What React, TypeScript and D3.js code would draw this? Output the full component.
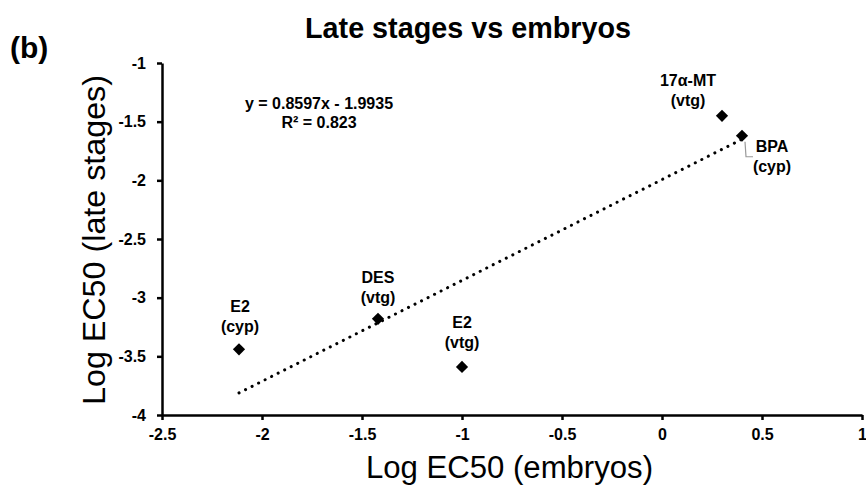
import React, { useRef, useEffect } from 'react';
import * as d3 from 'd3';

const chemicals = ['17α-MT', 'BPA', 'DES', 'E2', 'E2'];
const endpoints = ['(vtg)', '(cyp)', '(vtg)', '(cyp)', '(vtg)'];
const logEmbryos = [0.3, 0.4, -1.42, -2.115, -1.0];
const logLate = [-1.45, -1.62, -3.18, -3.44, -3.59];
const xTicks = [-2.5, -2, -1.5, -1, -0.5, 0, 0.5, 1];
const yTicks = [-1, -1.5, -2, -2.5, -3, -3.5, -4];
const slope = 0.8597;
const intercept = -1.9935;
const rSquared = 0.823;

const App = () => {
  const svgRef = useRef(null);

  useEffect(() => {
    const width = 866;
    const height = 488;
    const svg = d3.select(svgRef.current);
    svg.selectAll('*').remove();
    svg.attr('width', width).attr('height', height).style('background', 'white');

    const font = 'Liberation Sans, Arial, sans-serif';

    const x = d3.scaleLinear().domain([-2.5, 1]).range([162, 862]);
    const y = d3.scaleLinear().domain([-4, -1]).range([415, 63]);

    // axes
    const xAxis = d3.axisBottom(x).tickValues(xTicks).tickSize(5).tickSizeOuter(0)
      .tickFormat(d => String(d));
    const gx = svg.append('g').attr('transform', `translate(0, ${y(-4)})`).call(xAxis);
    gx.select('.domain').attr('stroke', '#000').attr('stroke-width', 2.5);
    gx.selectAll('.tick line').attr('stroke', '#000').attr('stroke-width', 2.5);
    gx.selectAll('.tick text')
      .style('font-family', font).style('font-size', '16px').style('font-weight', 'bold')
      .attr('fill', '#000').attr('y', 10).attr('dy', '0.95em');

    const yAxis = d3.axisLeft(y).tickValues(yTicks).tickSize(5).tickSizeOuter(0)
      .tickFormat(d => String(d));
    const gy = svg.append('g').attr('transform', `translate(${x(-2.5)}, 0)`).call(yAxis);
    gy.select('.domain').attr('stroke', '#000').attr('stroke-width', 2.5);
    gy.selectAll('.tick line').attr('stroke', '#000').attr('stroke-width', 2.5);
    gy.selectAll('.tick text')
      .style('font-family', font).style('font-size', '16px').style('font-weight', 'bold')
      .attr('fill', '#000').attr('x', -16);

    // trendline over the range of the data
    const x0 = d3.min(logEmbryos);
    const x1 = d3.max(logEmbryos);
    svg.append('line')
      .attr('x1', x(x0)).attr('y1', y(slope * x0 + intercept))
      .attr('x2', x(x1)).attr('y2', y(slope * x1 + intercept))
      .attr('stroke', '#000').attr('stroke-width', 3)
      .attr('stroke-linecap', 'round').attr('stroke-dasharray', '0.1 7.2');

    // leader line for BPA
    const bx = x(logEmbryos[1]);
    const by = y(logLate[1]);
    svg.append('path')
      .attr('d', `M${bx + 3},${by + 6} L${bx + 4},${by + 21} L${bx + 11},${by + 21}`)
      .attr('fill', 'none').attr('stroke', '#999').attr('stroke-width', 1.2);

    // markers
    svg.selectAll('path.pt')
      .data(logEmbryos)
      .enter()
      .append('path')
      .attr('class', 'pt')
      .attr('d', d3.symbol().type(d3.symbolDiamond2).size(95)())
      .attr('transform', (d, i) => `translate(${x(d)}, ${y(logLate[i])})`)
      .attr('fill', '#000');

    // point labels
    const labelOffset = [[-34, -30], [30, 16], [0, -36], [1, -37], [0, -39]];
    logEmbryos.forEach((d, i) => {
      const lx = x(d) + labelOffset[i][0];
      const ly = y(logLate[i]) + labelOffset[i][1];
      const t = svg.append('text')
        .attr('x', lx).attr('y', ly)
        .attr('text-anchor', 'middle')
        .attr('font-family', font).attr('font-weight', 'bold').attr('font-size', 16)
        .attr('fill', '#000');
      t.append('tspan').attr('x', lx).text(chemicals[i]);
      t.append('tspan').attr('x', lx).attr('dy', 20).text(endpoints[i]);
    });

    // equation
    svg.append('text')
      .attr('x', 319).attr('y', 109).attr('text-anchor', 'middle')
      .attr('font-family', font).attr('font-weight', 'bold').attr('font-size', 16)
      .text(`y = ${slope}x  - ${Math.abs(intercept)}`);
    svg.append('text')
      .attr('x', 319).attr('y', 128).attr('text-anchor', 'middle')
      .attr('font-family', font).attr('font-weight', 'bold').attr('font-size', 16)
      .text(`R² = ${rSquared}`);

    // titles
    svg.append('text')
      .attr('x', 305).attr('y', 38)
      .attr('font-family', font).attr('font-weight', 'bold').attr('font-size', 29)
      .attr('textLength', 326).attr('lengthAdjust', 'spacingAndGlyphs')
      .text('Late stages vs embryos');
    svg.append('text')
      .attr('x', 10).attr('y', 58)
      .attr('font-family', font).attr('font-weight', 'bold').attr('font-size', 30)
      .text('(b)');
    svg.append('text')
      .attr('x', 366).attr('y', 478)
      .attr('font-family', font).attr('font-size', 31)
      .attr('textLength', 287).attr('lengthAdjust', 'spacingAndGlyphs')
      .text('Log EC50 (embryos)');
    svg.append('text')
      .attr('transform', 'translate(105, 405) rotate(-90)')
      .attr('font-family', font).attr('font-size', 31)
      .attr('textLength', 330).attr('lengthAdjust', 'spacingAndGlyphs')
      .text('Log EC50 (late stages)');
  }, []);

  return (
    <svg ref={svgRef} style={{ position: 'absolute', left: 0, top: 0 }}></svg>
  );
};

export default App;
